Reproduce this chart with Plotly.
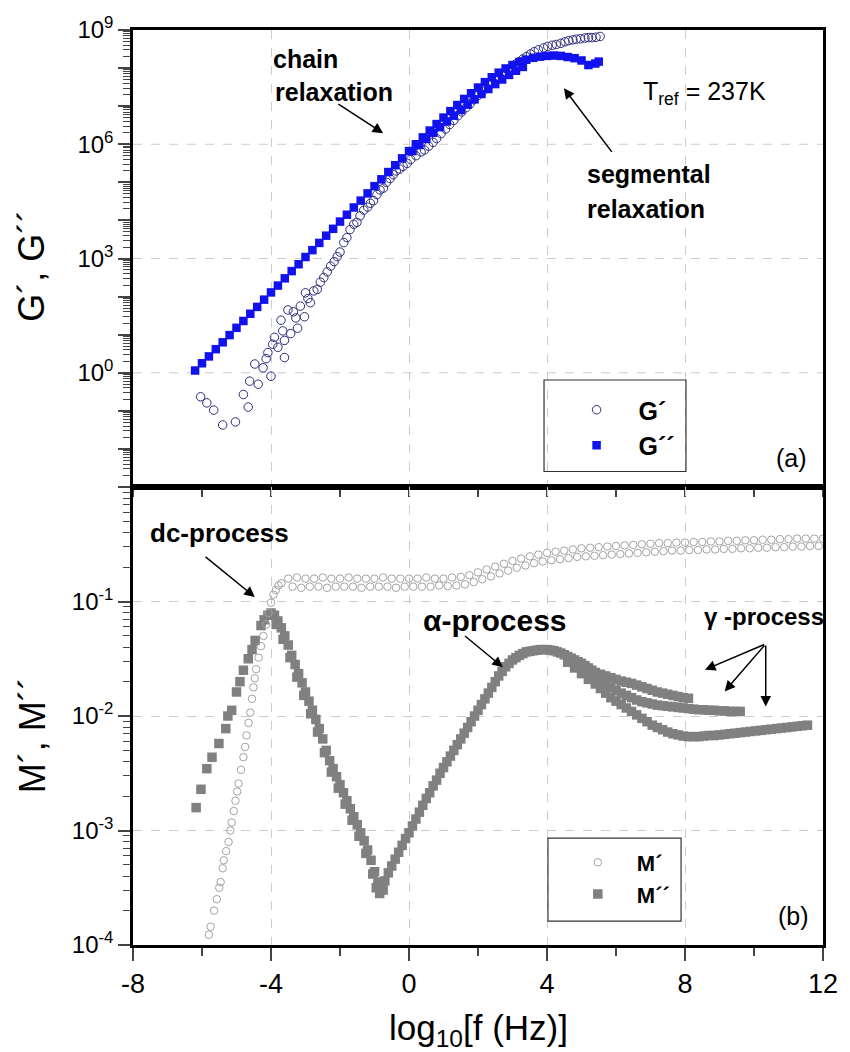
import plotly.graph_objects as go

FONT = "Arial, 'Liberation Sans', Helvetica, sans-serif"

# ---------------- panel (a): G' and G'' (values given as log10) ----------------
gp_x = [-6.04,-5.86,-5.66,-5.4,-5.03,-4.8,-4.66,-4.62,-4.47,-4.37,-4.23,-4.14,-4.09,-4.0,-3.95,-3.9,-3.8,-3.71,-3.66,-3.61,
        -3.61,-3.51,-3.43,-3.35,-3.28,-3.23,-3.15,-3.03,-3.0,-2.93,-2.86,-2.76,-2.66,-2.57,-2.47,-2.37,-2.27,-2.17,-2.08,-2.0,
        -1.89,-1.8,-1.71,-1.6,-1.51,-1.42,-1.31,-1.2,-1.12,-1.03,-0.93,-0.84,-0.74,-0.65,-0.55,-0.46,-0.37,-0.27,-0.17,-0.05,
        0.05,0.2,0.35,0.45,0.57,0.7,0.8,0.93,1.06,1.18,1.3,1.42,1.53,1.65,1.77,1.88,2.0,2.12,2.25,2.37,
        2.49,2.62,2.75,2.86,2.97,3.1,3.2,3.3,3.4,3.52,3.63,3.75,3.9,4.02,4.15,4.27,4.4,4.52,4.63,4.75,
        4.85,4.97,5.1,5.2,5.3,5.42,5.54]
gp_log = [-0.63,-0.79,-0.98,-1.37,-1.29,-0.57,-0.9,-0.22,0.23,-0.3,0.13,0.37,0.53,-0.09,0.75,0.93,0.67,1.38,1.1,0.85,
          0.4,1.65,1.03,1.6,1.44,1.17,1.75,1.47,2.1,1.95,1.84,2.15,2.19,2.38,2.5,2.65,2.8,2.92,3.05,3.17,
          3.42,3.55,3.76,3.9,3.95,4.12,4.27,4.35,4.45,4.52,4.68,4.8,4.85,5.0,5.1,5.2,5.3,5.35,5.42,5.5,
          5.6,5.7,5.8,5.85,5.95,6.05,6.15,6.28,6.4,6.52,6.63,6.75,6.85,6.96,7.06,7.17,7.28,7.38,7.48,7.58,
          7.68,7.78,7.88,7.96,8.03,8.11,8.17,8.24,8.3,8.37,8.43,8.48,8.53,8.57,8.6,8.62,8.65,8.69,8.72,8.74,
          8.76,8.77,8.79,8.8,8.8,8.81,8.83]

gpp_x = [-6.2,-6.0,-5.8,-5.6,-5.4,-5.2,-5.0,-4.8,-4.6,-4.4,-4.2,-4.0,-3.8,-3.6,-3.4,-3.2,-3.0,-2.8,-2.6,-2.4,
         -2.2,-2.0,-1.8,-1.6,-1.4,-1.2,-1.0,-0.8,-0.6,-0.4,-0.2,0.0,0.2,0.4,0.6,0.8,1.0,1.2,1.4,1.6,
         1.8,2.0,2.2,2.4,2.6,2.8,3.0,3.2,3.4,3.6,3.8,4.0,4.2,4.4,4.6,4.8,5.0,5.2,5.4,5.5,
         0.1,0.3,0.5,0.7,0.9,1.1,1.3,1.5,1.7,1.9,2.1,2.3,2.5,2.7,2.9,3.1,3.3]
gpp_log = [0.06,0.25,0.43,0.62,0.8,0.99,1.18,1.36,1.55,1.73,1.92,2.11,2.29,2.48,2.67,2.85,3.04,3.22,3.41,3.6,
           3.78,3.97,4.15,4.34,4.52,4.71,4.9,5.08,5.27,5.45,5.63,5.82,6.0,6.18,6.36,6.53,6.7,6.87,7.03,7.19,
           7.34,7.49,7.63,7.76,7.88,7.99,8.08,8.16,8.22,8.27,8.3,8.32,8.33,8.32,8.29,8.26,8.2,8.08,8.12,8.17,
           5.82,5.98,6.14,6.3,6.45,6.6,6.75,6.9,7.04,7.18,7.32,7.45,7.58,7.7,7.82,7.93,8.03]

# ---------------- panel (b): M' and M'' (values given as log10) ----------------
mp_rise_x = [-5.8,-5.75,-5.65,-5.57,-5.5,-5.46,-5.4,-5.37,-5.3,-5.23,-5.18,-5.14,-5.08,-5.03,-4.98,-4.94,-4.87,-4.8,
             -4.75,-4.71,-4.65,-4.6,-4.55,-4.51,-4.47,-4.43,-4.36,-4.29,-4.22,-4.14,-4.07,-4.0,-3.93,-3.86,-3.78,-3.7]
mp_rise_log = [-3.91,-3.84,-3.7,-3.6,-3.5,-3.45,-3.33,-3.26,-3.18,-3.1,-3.0,-2.93,-2.83,-2.74,-2.66,-2.59,-2.47,-2.36,
               -2.27,-2.17,-2.06,-1.97,-1.85,-1.75,-1.67,-1.59,-1.49,-1.39,-1.3,-1.2,-1.1,-1.01,-0.94,-0.9,-0.86,-0.84]
mp_up_x = [-3.5,-3.25,-3.0,-2.75,-2.5,-2.25,-2.0,-1.75,-1.5,-1.25,-1.0,-0.75,-0.5,-0.25,0.0,0.25,0.5,0.75,1.0,
           1.25,1.5,1.75,2.0,2.25,2.5,2.75,3.0,3.25,3.5,3.75,4.0,4.25,4.5,4.75,5.0,5.25,5.5,5.75,6.0,6.25,6.5,6.75,
           7.0,7.25,7.5,7.75,8.0,8.25,8.5,8.75,9.0,9.25,9.5,9.75,10.0,10.25,10.5,10.75,11.0,11.25,11.5,11.75,12.0]
mp_up_log = [-0.8,-0.79,-0.8,-0.8,-0.79,-0.8,-0.8,-0.79,-0.8,-0.8,-0.8,-0.79,-0.8,-0.8,-0.8,-0.8,-0.79,-0.8,-0.8,
             -0.79,-0.785,-0.77,-0.745,-0.72,-0.695,-0.67,-0.645,-0.625,-0.605,-0.59,-0.575,-0.565,-0.555,-0.545,-0.535,
             -0.53,-0.525,-0.52,-0.515,-0.51,-0.505,-0.5,-0.495,-0.49,-0.49,-0.485,-0.485,-0.48,-0.48,-0.475,-0.475,
             -0.47,-0.47,-0.465,-0.465,-0.46,-0.46,-0.455,-0.455,-0.45,-0.45,-0.45,-0.45]
mp_lo_x = [-3.375,-3.125,-2.875,-2.625,-2.375,-2.125,-1.875,-1.625,-1.375,-1.125,-0.875,-0.625,-0.375,-0.125,0.125,0.375,
           0.625,0.875,1.125,1.375,1.625,1.875,2.125,2.375,2.625,2.875,3.125,3.375,3.625,3.875,4.125,4.375,4.625,4.875,
           5.125,5.375,5.625,5.875,6.125,6.375,6.625,6.875,7.125,7.375,7.625,7.875,8.125,8.375,8.625,8.875,9.125,9.375,
           9.625,9.875,10.125,10.375,10.625,10.875,11.125,11.375,11.625,11.875]
mp_lo_log = [-0.87,-0.88,-0.87,-0.87,-0.88,-0.87,-0.87,-0.87,-0.88,-0.87,-0.87,-0.87,-0.88,-0.87,-0.87,-0.87,-0.87,-0.86,
             -0.865,-0.86,-0.85,-0.83,-0.805,-0.78,-0.755,-0.73,-0.705,-0.685,-0.665,-0.65,-0.64,-0.63,-0.62,-0.61,
             -0.605,-0.6,-0.595,-0.59,-0.585,-0.58,-0.575,-0.57,-0.565,-0.56,-0.555,-0.555,-0.55,-0.55,-0.545,-0.545,
             -0.54,-0.54,-0.535,-0.535,-0.53,-0.53,-0.525,-0.525,-0.52,-0.52,-0.515,-0.515]

mpp_rise_x = [-6.17,-6.03,-5.86,-5.71,-5.51,-5.31,-5.25,-5.14,-5.0,-4.9,-4.8,-4.66,-4.55,-4.46,-4.29,-4.2,-4.09,-4.0]
mpp_rise_log = [-2.8,-2.64,-2.46,-2.36,-2.24,-2.11,-2.0,-1.95,-1.79,-1.7,-1.6,-1.5,-1.42,-1.34,-1.21,-1.16,-1.12,-1.1]
mpp_fall_x = [-3.9,-3.8,-3.7,-3.6,-3.5,-3.4,-3.3,-3.2,-3.1,-3.0,-2.9,-2.8,-2.7,-2.6,-2.5,-2.4,-2.3,-2.2,-2.1,-2.0,
              -1.9,-1.8,-1.7,-1.6,-1.5,-1.4,-1.3,-1.2,-1.1,-1.0,-0.9,-0.95,-0.85,-0.75,
              -0.8,-0.7,-0.6,-0.5,-0.4,-0.3,-0.2,-0.1]
mpp_fall_log = [-1.12,-1.17,-1.23,-1.3,-1.38,-1.47,-1.55,-1.63,-1.71,-1.79,-1.87,-1.95,-2.03,-2.11,-2.2,-2.3,-2.39,-2.46,
                -2.53,-2.6,-2.67,-2.74,-2.81,-2.88,-2.95,-3.02,-3.09,-3.17,-3.26,-3.36,-3.45,-3.5,-3.55,-3.52,
                -3.5,-3.44,-3.37,-3.31,-3.25,-3.19,-3.13,-3.07]
mpp_fall2_x = [-3.85,-3.65,-3.45,-3.25,-3.05,-2.85,-2.65,-2.45,-2.25,-2.05,-1.85,-1.65,-1.45,-1.25,-1.05]
mpp_fall2_log = [-1.2,-1.33,-1.49,-1.66,-1.82,-1.98,-2.14,-2.32,-2.49,-2.63,-2.77,-2.91,-3.05,-3.2,-3.38]
mpp_alpha_x = [0.0,0.1,0.2,0.3,0.4,0.5,0.6,0.7,0.8,0.9,1.0,1.1,1.2,1.3,1.4,1.5,1.6,1.7,1.8,1.9,2.0,2.1,2.2,2.3,2.4,
               2.5,2.6,2.7,2.8,2.9,3.0,3.1,3.2,3.3,3.4,3.5,3.6,3.7,3.8,3.9,4.0,4.1,4.2,4.3,4.4,4.5,4.6,4.7,4.8,4.9,
               5.0,5.1,5.2,5.3,5.4]
mpp_alpha_log = [-3.02,-2.96,-2.9,-2.84,-2.78,-2.72,-2.67,-2.61,-2.56,-2.5,-2.45,-2.4,-2.35,-2.3,-2.25,-2.2,-2.15,-2.1,
                 -2.05,-2.0,-1.95,-1.9,-1.85,-1.8,-1.75,-1.7,-1.65,-1.61,-1.57,-1.54,-1.51,-1.49,-1.47,-1.455,-1.44,
                 -1.435,-1.43,-1.425,-1.42,-1.42,-1.42,-1.425,-1.43,-1.44,-1.45,-1.465,-1.48,-1.495,-1.51,-1.525,
                 -1.54,-1.56,-1.58,-1.6,-1.62]
mpp_g1_x = [5.55,5.7,5.85,6.0,6.15,6.3,6.45,6.6,6.75,6.9,7.05,7.2,7.35,7.5,7.65,7.8,7.95,8.1]
mpp_g1_log = [-1.635,-1.65,-1.665,-1.68,-1.695,-1.705,-1.715,-1.73,-1.745,-1.76,-1.775,-1.79,-1.8,-1.81,-1.82,-1.83,
              -1.84,-1.845]
mpp_g2_x = [4.6,4.8,5.0,5.2,5.4,5.55,5.7,5.85,6.0,6.15,6.3,6.45,6.6,6.75,6.9,7.05,7.2,7.35,7.5,7.65,7.8,7.95,8.1,
            8.25,8.4,8.55,8.7,8.85,9.0,9.15,9.3,9.45,9.6]
mpp_g2_log = [-1.5,-1.54,-1.58,-1.62,-1.66,-1.69,-1.72,-1.75,-1.775,-1.8,-1.82,-1.84,-1.86,-1.875,-1.885,-1.895,
              -1.905,-1.91,-1.915,-1.92,-1.925,-1.93,-1.935,-1.94,-1.945,-1.945,-1.95,-1.95,-1.955,-1.955,-1.96,
              -1.96,-1.96]
mpp_g3_x = [4.6,4.8,5.0,5.2,5.4,5.55,5.7,5.85,6.0,6.15,6.3,6.45,6.6,6.75,6.9,7.05,7.2,7.35,7.5,7.65,7.8,7.95,8.1,
            8.25,8.4,8.55,8.7,8.85,9.0,9.15,9.3,9.45,9.6,9.75,9.9,10.05,10.2,10.35,10.5,10.65,10.8,10.95,11.1,
            11.25,11.4,11.55]
mpp_g3_log = [-1.53,-1.58,-1.63,-1.68,-1.72,-1.76,-1.8,-1.84,-1.87,-1.9,-1.93,-1.96,-1.99,-2.02,-2.05,-2.08,-2.1,
              -2.12,-2.14,-2.155,-2.165,-2.175,-2.18,-2.18,-2.18,-2.175,-2.17,-2.17,-2.165,-2.16,-2.155,-2.15,
              -2.145,-2.14,-2.135,-2.13,-2.125,-2.12,-2.115,-2.11,-2.105,-2.1,-2.095,-2.09,-2.085,-2.08]

# tick labels
top_decades = [-3, -2, -1, 0, 1, 2, 3, 4, 5, 6, 7, 8, 9]
top_labelled = [0, 3, 6, 9]
top_grid = [0, 3, 6]
bot_decades = [-4, -3, -2, -1]
x_tickvals = [-8, -4, 0, 4, 8, 12]
x_ticktext = ["-8", "-4", "0", "4", "8", "12"]
x_minorvals = [-6, -2, 2, 6, 10]

TOP_RANGE = [-3, 9]
BOT_RANGE = [-4, 0]


def lin(logs):
    return [10 ** v for v in logs]


G_OPEN = "#2c2c7c"
G_FILL = "#1212ee"
M_OPEN = "#a3a3a3"
M_FILL = "#808080"

fig = go.Figure()
fig.add_trace(go.Scatter(
    x=gp_x, y=lin(gp_log), mode="markers", name="<b>G´</b>", xaxis="x", yaxis="y",
    legend="legend", marker=dict(symbol="circle-open", size=8.5, color=G_OPEN, line=dict(width=1))))
fig.add_trace(go.Scatter(
    x=gpp_x, y=lin(gpp_log), mode="markers", name="<b>G´´</b>", xaxis="x", yaxis="y",
    legend="legend", marker=dict(symbol="square", size=8.5, color=G_FILL)))

mpp_x = mpp_rise_x + mpp_fall_x + mpp_fall2_x + mpp_alpha_x + mpp_g1_x + mpp_g2_x + mpp_g3_x
mpp_log = mpp_rise_log + mpp_fall_log + mpp_fall2_log + mpp_alpha_log + mpp_g1_log + mpp_g2_log + mpp_g3_log
mp_x = mp_rise_x + mp_up_x + mp_lo_x
mp_log = mp_rise_log + mp_up_log + mp_lo_log

fig.add_trace(go.Scatter(
    x=mpp_x, y=lin(mpp_log), mode="markers", name="<b>M´´</b>", xaxis="x2", yaxis="y2",
    legend="legend2", legendrank=2, marker=dict(symbol="square", size=9.5, color=M_FILL)))
fig.add_trace(go.Scatter(
    x=mp_x, y=lin(mp_log), mode="markers", name="<b>M´</b>", xaxis="x2", yaxis="y2",
    legend="legend2", legendrank=1,
    marker=dict(symbol="circle-open", size=7.5, color=M_OPEN, line=dict(width=1))))

GRID = "#cccccc"
axis_common = dict(showline=True, linecolor="black", linewidth=2.5, mirror=True,
                   gridcolor=GRID, griddash="dash", gridwidth=1, zeroline=False)
ytickfont = dict(family=FONT, size=24, color="black")
xtickfont = dict(family=FONT, size=27, color="black")

digits = [2, 3, 4, 5, 6, 7, 8, 9]
top_minor = [d * 10.0 ** n for n in range(TOP_RANGE[0], TOP_RANGE[1]) for d in digits]
bot_minor = [d * 10.0 ** n for n in range(BOT_RANGE[0], BOT_RANGE[1]) for d in digits]

fig.update_layout(
    width=850, height=1052,
    margin=dict(l=133, r=17, t=30, b=107),
    paper_bgcolor="white", plot_bgcolor="white",
    font=dict(family=FONT, color="black"),
    showlegend=True,
    xaxis=dict(axis_common, domain=[0, 1], anchor="y", range=[-8, 12],
               tickvals=x_tickvals, showticklabels=False, ticks="outside", ticklen=7, tickwidth=1.5,
               minor=dict(tickvals=x_minorvals, ticks="outside", ticklen=7, tickwidth=1.5, showgrid=False)),
    yaxis=dict(axis_common, domain=[0.5005, 1], anchor="x", type="log", range=TOP_RANGE,
               tickvals=[10.0 ** n for n in top_decades],
               ticktext=[("10<sup>%d</sup>" % n) if n in top_labelled else "" for n in top_decades],
               tickfont=ytickfont, showgrid=False, ticks="outside", ticklen=12, tickwidth=1.5,
               minor=dict(tickvals=top_minor, ticks="outside", ticklen=7, tickwidth=1, showgrid=False)),
    xaxis2=dict(axis_common, domain=[0, 1], anchor="y2", range=[-8, 12],
                tickvals=x_tickvals, ticktext=x_ticktext, tickfont=xtickfont,
                ticks="outside", ticklen=13, tickwidth=1.5,
                minor=dict(tickvals=x_minorvals, ticks="outside", ticklen=8, tickwidth=1.5, showgrid=False)),
    yaxis2=dict(axis_common, domain=[0, 0.5005], anchor="x2", type="log", range=BOT_RANGE,
                tickvals=[10.0 ** n for n in bot_decades],
                ticktext=["10<sup>%d</sup>" % n for n in bot_decades],
                tickfont=ytickfont, ticks="outside", ticklen=12, tickwidth=1.5,
                minor=dict(tickvals=bot_minor, ticks="outside", ticklen=7, tickwidth=1, showgrid=False)),
    legend=dict(x=0.611, y=0.6098, xanchor="left", yanchor="top", bgcolor="rgba(0,0,0,0)",
                borderwidth=0, itemwidth=74, tracegroupgap=0,
                font=dict(family=FONT, size=25, color="black")),
    legend2=dict(x=0.6171, y=0.1131, xanchor="left", yanchor="top", bgcolor="rgba(0,0,0,0)",
                 borderwidth=0, itemwidth=68, tracegroupgap=0,
                 font=dict(family=FONT, size=22, color="black")),
)

shapes = [
    dict(type="rect", xref="paper", yref="paper", x0=0.5957, x1=0.8014, y0=0.5175, y1=0.6175,
         line=dict(color="#333333", width=1.2), fillcolor="rgba(0,0,0,0)"),
    dict(type="rect", xref="paper", yref="paper", x0=0.6014, x1=0.7943, y0=0.0262, y1=0.1169,
         line=dict(color="#333333", width=1.2), fillcolor="rgba(0,0,0,0)"),
]
# horizontal grid lines of panel (a) at the labelled decades
for n in top_grid:
    frac = (n - TOP_RANGE[0]) / (TOP_RANGE[1] - TOP_RANGE[0])
    shapes.append(dict(type="line", xref="x domain", yref="y domain", x0=0, x1=1, y0=frac, y1=frac,
                       layer="below", line=dict(color=GRID, width=1, dash="dash")))
fig.update_layout(shapes=shapes)

ann = []
bold25 = dict(family=FONT, size=25, color="black")


def txt(x, y, text, xr, yr, font, xanchor="left", angle=0):
    ann.append(dict(x=x, y=y, xref=xr, yref=yr, text=text, showarrow=False, textangle=angle,
                    xanchor=xanchor, yanchor="middle", font=font))


def arrow(hx, hy, tx, ty, xr, yr):
    ann.append(dict(x=hx, y=hy, ax=tx, ay=ty, xref=xr, yref=yr, axref=xr, ayref=yr, text="",
                    showarrow=True, arrowhead=2, arrowsize=1.4, arrowwidth=1.5, arrowcolor="black",
                    standoff=0, startstandoff=0))


# axis titles
txt(-0.147, 0.742, "G´, G´´", "paper", "paper", dict(family=FONT, size=36, color="black"), "center", -90)
txt(-0.146, 0.2295, "M´, M´´", "paper", "paper", dict(family=FONT, size=36, color="black"), "center", -90)
txt(0.5, -0.0929, "log<sub>10</sub>[f (Hz)]", "paper", "paper", dict(family=FONT, size=35, color="black"),
    "center")

# panel (a)
txt(-4.0, 8.24, "<b>chain</b>", "x", "y", bold25)
txt(-3.94, 7.37, "<b>relaxation</b>", "x", "y", bold25)
arrow(-0.75, 6.29, -2.09, 7.08, "x", "y")
txt(5.11, 5.22, "<b>segmental</b>", "x", "y", bold25)
txt(5.11, 4.30, "<b>relaxation</b>", "x", "y", bold25)
arrow(4.49, 7.47, 5.91, 5.76, "x", "y")
txt(6.71, 7.35, "T<sub>ref</sub> = 237K", "x", "y", dict(family=FONT, size=25, color="black"))
txt(11.09, -2.24, "(a)", "x", "y", dict(family=FONT, size=25, color="black"), xanchor="center")

# panel (b)
txt(-7.56, -0.40, "<b>dc-process</b>", "x2", "y2", dict(family=FONT, size=26, color="black"))
arrow(-4.47, -0.96, -5.94, -0.60, "x2", "y2")
txt(0.34, -1.165, "<b>α-process</b>", "x2", "y2", dict(family=FONT, size=30, color="black"))
arrow(2.72, -1.574, 1.58, -1.29, "x2", "y2")
txt(8.5, -1.13, "<b>γ -process</b>", "x2", "y2", dict(family=FONT, size=24, color="black"))
arrow(8.58, -1.595, 10.34, -1.37, "x2", "y2")
arrow(9.15, -1.785, 10.34, -1.37, "x2", "y2")
arrow(10.34, -1.916, 10.34, -1.37, "x2", "y2")
txt(11.14, -3.75, "(b)", "x2", "y2", dict(family=FONT, size=25, color="black"), xanchor="center")

fig.update_layout(annotations=ann)

fig.write_html("out.html")
